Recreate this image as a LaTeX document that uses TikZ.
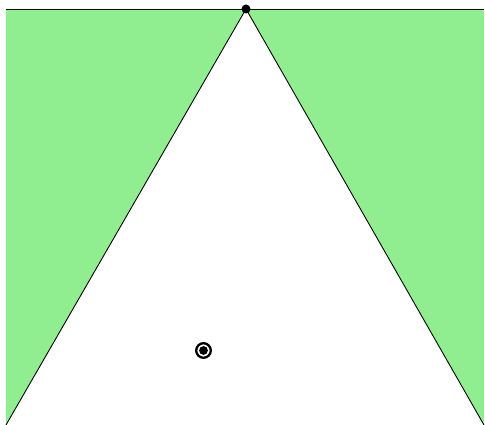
\documentclass[tikz,border=0pt]{standalone}
\usepackage{xcolor}
\usepackage{tikz}
\usetikzlibrary{positioning}
\definecolor{lawn}{RGB}{144,238,144}

\begin{document}
\begin{tikzpicture}[
  x=0.02cm, y=-0.02cm,
  edge/.style={draw=black, line width=0.5pt},
  apexdot/.style={circle, fill=black, inner sep=0pt, minimum size=9*0.02cm},
  target/.style={circle, draw=black, line width=1.3pt, fill=white, inner sep=0pt, minimum size=14.6*0.02cm}
]
\useasboundingbox (0,0) rectangle (485,425);
\coordinate (tl) at (6,9);
\coordinate (tr) at (484,9);
\coordinate (bl) at (6,425);
\coordinate (br) at (484,425);
\coordinate (a) at (246,9);
\fill[lawn] (tl) -- (a) -- (bl) -- cycle;
\fill[lawn] (a) -- (tr) -- (br) -- cycle;
\draw[edge] (tl) -- (tr);
\draw[edge] (a) -- (bl);
\draw[edge] (a) -- (br);
\node[apexdot] (apex) at (a) {};
\node[target] (obs) at (203.5,350.5) {};
\fill[black] (obs.center) circle[radius=4.4*0.02cm];
\end{tikzpicture}
\end{document}
